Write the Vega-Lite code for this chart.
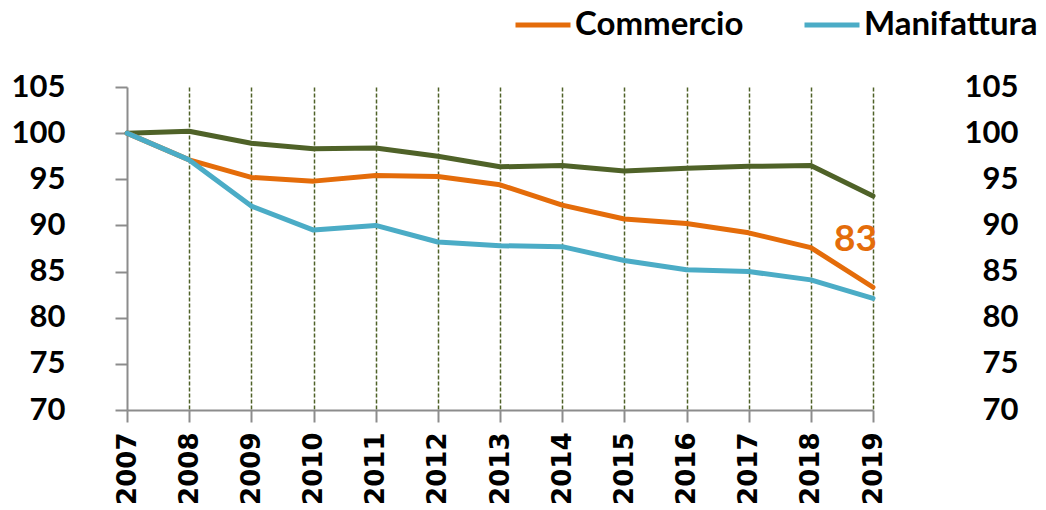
{
  "$schema": "https://vega.github.io/schema/vega-lite/v6.json",
  "width": 746,
  "height": 323,
  "autosize": {"type": "none"},
  "padding": {"left": 127, "top": 87, "right": 173, "bottom": 100},
  "background": "white",
  "config": {"view": {"stroke": null}, "font": "Lato"},
  "layer": [
    {
      "data": {
        "values": [
          {"anno": "2007", "serie": "Totale", "valore": 100},
          {"anno": "2008", "serie": "Totale", "valore": 100.2},
          {"anno": "2009", "serie": "Totale", "valore": 98.9},
          {"anno": "2010", "serie": "Totale", "valore": 98.3},
          {"anno": "2011", "serie": "Totale", "valore": 98.4},
          {"anno": "2012", "serie": "Totale", "valore": 97.5},
          {"anno": "2013", "serie": "Totale", "valore": 96.35},
          {"anno": "2014", "serie": "Totale", "valore": 96.5},
          {"anno": "2015", "serie": "Totale", "valore": 95.9},
          {"anno": "2016", "serie": "Totale", "valore": 96.2},
          {"anno": "2017", "serie": "Totale", "valore": 96.4},
          {"anno": "2018", "serie": "Totale", "valore": 96.5},
          {"anno": "2019", "serie": "Totale", "valore": 93.2},
          {"anno": "2007", "serie": "Commercio", "valore": 100},
          {"anno": "2008", "serie": "Commercio", "valore": 97.1},
          {"anno": "2009", "serie": "Commercio", "valore": 95.2},
          {"anno": "2010", "serie": "Commercio", "valore": 94.8},
          {"anno": "2011", "serie": "Commercio", "valore": 95.4},
          {"anno": "2012", "serie": "Commercio", "valore": 95.3},
          {"anno": "2013", "serie": "Commercio", "valore": 94.4},
          {"anno": "2014", "serie": "Commercio", "valore": 92.2},
          {"anno": "2015", "serie": "Commercio", "valore": 90.7},
          {"anno": "2016", "serie": "Commercio", "valore": 90.2},
          {"anno": "2017", "serie": "Commercio", "valore": 89.2},
          {"anno": "2018", "serie": "Commercio", "valore": 87.6},
          {"anno": "2019", "serie": "Commercio", "valore": 83.3},
          {"anno": "2007", "serie": "Manifattura", "valore": 100},
          {"anno": "2008", "serie": "Manifattura", "valore": 97.1},
          {"anno": "2009", "serie": "Manifattura", "valore": 92.1},
          {"anno": "2010", "serie": "Manifattura", "valore": 89.5},
          {"anno": "2011", "serie": "Manifattura", "valore": 90.0},
          {"anno": "2012", "serie": "Manifattura", "valore": 88.2},
          {"anno": "2013", "serie": "Manifattura", "valore": 87.8},
          {"anno": "2014", "serie": "Manifattura", "valore": 87.7},
          {"anno": "2015", "serie": "Manifattura", "valore": 86.2},
          {"anno": "2016", "serie": "Manifattura", "valore": 85.2},
          {"anno": "2017", "serie": "Manifattura", "valore": 85.0},
          {"anno": "2018", "serie": "Manifattura", "valore": 84.1},
          {"anno": "2019", "serie": "Manifattura", "valore": 82.1}
        ]
      },
      "mark": {"type": "line", "strokeWidth": 5, "strokeJoin": "round", "strokeCap": "round"},
      "encoding": {
        "x": {
          "field": "anno",
          "type": "ordinal",
          "scale": {"type": "point", "padding": 0},
          "axis": {
            "title": null,
            "labelAngle": -90,
            "labelFont": "DejaVu Sans",
            "labelFontWeight": "bold",
            "labelFontSize": 26,
            "labelColor": "black",
            "labelPadding": 10,
            "tickSize": 12,
            "tickWidth": 2,
            "tickColor": "#8c8c8c",
            "domainColor": "#8c8c8c",
            "domainWidth": 2,
            "grid": true,
            "gridColor": "#4f6228",
            "gridDash": [4, 2],
            "gridWidth": 1.5,
            "gridOpacity": {"condition": {"test": "datum.value == '2007'", "value": 0}, "value": 1}
          }
        },
        "y": {
          "field": "valore",
          "type": "quantitative",
          "scale": {"domain": [70, 105], "nice": false, "zero": false},
          "axis": {
            "title": null,
            "values": [70, 75, 80, 85, 90, 95, 100, 105],
            "grid": false,
            "labelFont": "Lato",
            "labelFontWeight": "bold",
            "labelFontSize": 31,
            "labelColor": "black",
            "labelPadding": 50,
            "tickSize": 12,
            "tickWidth": 2,
            "tickColor": "#8c8c8c",
            "domainColor": "#8c8c8c",
            "domainWidth": 2
          }
        },
        "color": {
          "field": "serie",
          "type": "nominal",
          "scale": {"domain": ["Commercio", "Manifattura", "Totale"], "range": ["#e46c0a", "#4bacc6", "#4f6228"]},
          "legend": {
            "title": null,
            "orient": "none",
            "direction": "horizontal",
            "legendX": 386,
            "legendY": -92,
            "values": ["Commercio", "Manifattura"],
            "symbolType": "stroke",
            "symbolSize": 3025,
            "symbolStrokeWidth": 5,
            "labelFont": "Lato",
            "labelFontWeight": "bold",
            "labelFontSize": 33,
            "labelColor": "black",
            "labelOffset": 2,
            "columnPadding": 50,
            "padding": 0,
            "labelLimit": 300
          }
        },
        "order": {"field": "serie", "sort": "descending"}
      }
    },
    {
      "data": {"values": [{"anno": "2019", "valore": 88.4, "etichetta": "83"}]},
      "mark": {"type": "text", "align": "right", "baseline": "middle", "dx": 4, "font": "Lato", "fontWeight": "bold", "fontSize": 37, "color": "#e46c0a"},
      "encoding": {
        "x": {"field": "anno", "type": "ordinal"},
        "y": {
          "field": "valore",
          "type": "quantitative",
          "scale": {"domain": [70, 105], "nice": false, "zero": false},
          "axis": {
            "orient": "right",
            "title": null,
            "values": [70, 75, 80, 85, 90, 95, 100, 105],
            "grid": false,
            "domain": false,
            "ticks": false,
            "tickSize": 0,
            "labelAlign": "right",
            "labelPadding": 145,
            "labelFont": "Lato",
            "labelFontWeight": "bold",
            "labelFontSize": 31,
            "labelColor": "black"
          }
        },
        "text": {"field": "etichetta"}
      }
    }
  ],
  "resolve": {"scale": {"y": "independent"}}
}
